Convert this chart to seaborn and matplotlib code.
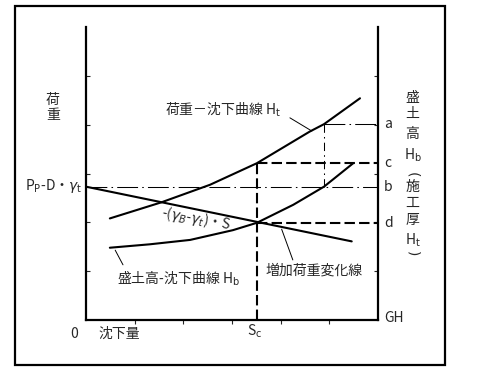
import matplotlib
matplotlib.use("Agg")
import matplotlib.pyplot as plt
from matplotlib.patches import Rectangle
import seaborn as sns

# Curves (x = settlement, y = load, axis units 0..6)
ht_s = [0.49, 1.55, 2.55, 3.51, 4.60, 4.89, 5.63]
ht_load = [2.08, 2.41, 2.77, 3.21, 3.86, 4.01, 4.54]
hb_s = [0.49, 1.31, 2.14, 3.02, 3.51, 4.26, 4.89, 5.49]
hb_load = [1.48, 1.55, 1.64, 1.84, 1.99, 2.36, 2.73, 3.21]
inc_s = [0.0, 5.46]
inc_load = [2.73, 1.61]

# reference levels
sc = 3.51
level_a = 4.01
level_b = 2.73
level_c = 3.21
level_d = 1.99
s_a = 4.89

sns.set_style("white")
plt.rcParams["font.family"] = ["Noto Sans CJK JP", "DejaVu Sans"]
plt.rcParams["mathtext.fontset"] = "dejavusans"

fig = plt.figure(figsize=(4.82, 3.71), dpi=100)
ax = fig.add_axes([86 / 482, 1 - 320 / 371, 292 / 482, 293 / 371])

# outer frame
fig.patches.append(Rectangle((15 / 482, 1 - 365 / 371), 430 / 482, 359 / 371,
                             transform=fig.transFigure, fill=False,
                             edgecolor="black", linewidth=1.6))

sns.lineplot(x=ht_s, y=ht_load, ax=ax, color="black", linewidth=1.5, sort=False)
sns.lineplot(x=hb_s, y=hb_load, ax=ax, color="black", linewidth=1.5, sort=False)
sns.lineplot(x=inc_s, y=inc_load, ax=ax, color="black", linewidth=1.5, sort=False)

dashdot = (0, (20, 4, 1.5, 4))
dashed = (0, (5, 2))
ax.plot([0, 6], [level_b, level_b], color="black", lw=0.75, ls=dashdot, clip_on=False)
ax.plot([s_a, 6], [level_a, level_a], color="black", lw=0.75, ls=dashdot, clip_on=False)
ax.plot([s_a, s_a], [level_b, level_a], color="black", lw=0.75, ls=(0, (8, 4, 1.5, 4)))
ax.plot([sc, 6], [level_c, level_c], color="black", lw=1.5, ls=dashed, clip_on=False)
ax.plot([sc, 6], [level_d, level_d], color="black", lw=1.5, ls=dashed, clip_on=False)
ax.plot([sc, sc], [0, level_c], color="black", lw=1.5, ls=dashed, clip_on=False)

ax.set_xlim(0, 6)
ax.set_ylim(0, 6)
ax.spines["top"].set_visible(False)
for side in ["left", "right", "bottom"]:
    ax.spines[side].set_linewidth(1.6)
    ax.spines[side].set_color("black")
ax.set_xticks([1, 2, 3, 4, 5])
ax.set_yticks([1, 2, 3, 4, 5])
ax.tick_params(axis="x", direction="out", length=3, width=0.8, labelbottom=False, bottom=True)
ax.tick_params(axis="y", direction="in", length=3, width=0.8, left=True, right=True,
               labelleft=False, labelright=False)

fs = 10
# left axis label
ax.text(-0.68, 4.51, "荷", ha="center", va="center", fontsize=fs, clip_on=False)
ax.text(-0.68, 4.20, "重", ha="center", va="center", fontsize=fs, clip_on=False)
ax.text(-0.07, 2.74, r"P$_\mathrm{P}$-D・$\gamma_\mathrm{t}$", ha="right", va="center",
        fontsize=fs, clip_on=False)

# right axis label, vertical
right_chars = [("盛", 4.55), ("土", 4.21), ("高", 3.80), (r"H$_\mathrm{b}$", 3.38),
               ("施", 2.72), ("工", 2.40), ("厚", 2.05), (r"H$_\mathrm{t}$", 1.64)]
for ch, yy in right_chars:
    ax.text(6.71, yy, ch, ha="center", va="center", fontsize=fs, clip_on=False)
# vertical brackets round 施工厚 Ht
ax.text(6.71, 2.97, "(", ha="center", va="center", fontsize=fs, rotation=-90,
        family="DejaVu Sans", clip_on=False)
ax.text(6.71, 1.36, ")", ha="center", va="center", fontsize=fs, rotation=-90,
        family="DejaVu Sans", clip_on=False)

for lab, yy in [("a", level_a), ("b", level_b), ("c", level_c), ("d", level_d)]:
    ax.text(6.12, yy, lab, ha="left", va="center", fontsize=fs, clip_on=False)
ax.text(6.12, 0.04, "GH", ha="left", va="center", fontsize=fs, clip_on=False)

# bottom labels
ax.text(-0.25, -0.29, "0", ha="center", va="center", fontsize=fs, clip_on=False)
ax.text(0.68, -0.29, "沈下量", ha="center", va="center", fontsize=fs, clip_on=False)
ax.text(3.47, -0.23, r"S$_\mathrm{c}$", ha="center", va="center", fontsize=fs, clip_on=False)

# curve annotations with leader lines
ax.text(1.62, 4.30, r"荷重－沈下曲線 H$_\mathrm{t}$", ha="left", va="center", fontsize=fs)
ax.plot([4.19, 4.64], [4.14, 3.87], color="black", lw=0.7)
ax.text(0.64, 0.86, r"盛土高-沈下曲線 H$_\mathrm{b}$", ha="left", va="center", fontsize=fs)
ax.plot([0.60, 0.76], [1.43, 1.13], color="black", lw=0.7)
ax.text(3.68, 1.02, "増加荷重変化線", ha="left", va="center", fontsize=fs)
ax.plot([4.02, 4.25], [1.86, 1.23], color="black", lw=0.7)
ax.text(2.26, 2.08, r"-($\gamma_B$-$\gamma_t$)・S", ha="center", va="center",
        fontsize=10, rotation=-10, rotation_mode="anchor")

plt.savefig("out.png", dpi=100)
